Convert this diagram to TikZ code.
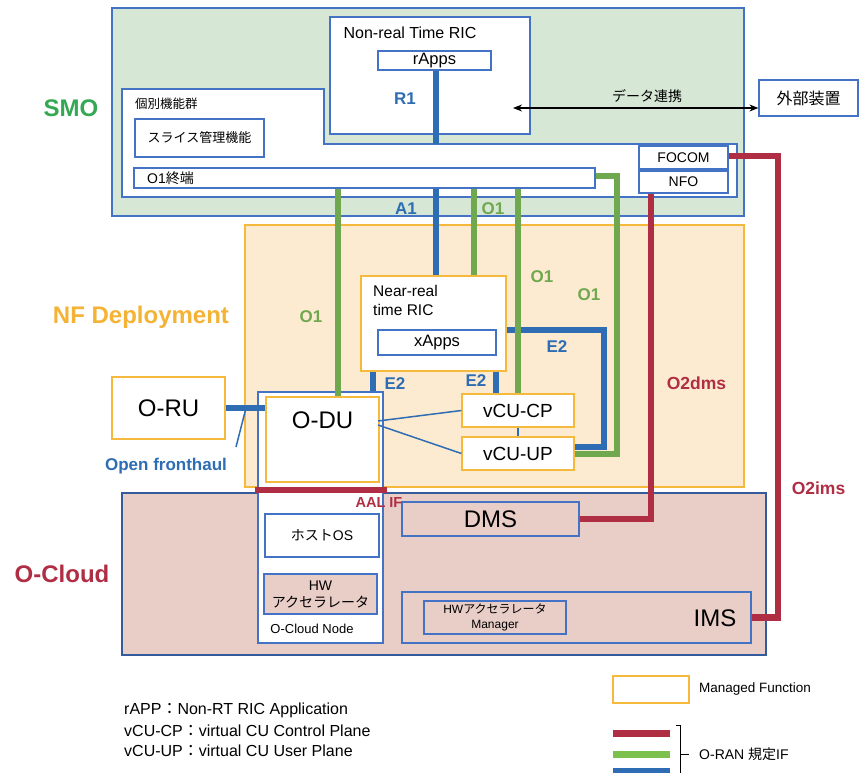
\documentclass[tikz,border=0pt]{standalone}
\usepackage{fontspec}
\setmainfont{Liberation Sans}
\newfontfamily\jpfont{Noto Sans CJK JP}
\newcommand{\jp}[1]{{\jpfont #1}}
\usetikzlibrary{arrows.meta}

\definecolor{bblue}{HTML}{4472C4}
\definecolor{morange}{HTML}{F5B93C}
\definecolor{smofill}{HTML}{D6E8D5}
\definecolor{nffill}{HTML}{FDEBD1}
\definecolor{ocfill}{HTML}{E9CDC7}
\definecolor{ifblue}{HTML}{2E6DB4}
\definecolor{ifgreen}{HTML}{6FA84E}
\definecolor{ifred}{HTML}{B02E44}
\definecolor{lggreen}{HTML}{7CC04E}
\definecolor{smogreen}{HTML}{34A853}
\definecolor{nforange}{HTML}{F5B335}

\begin{document}
\begin{tikzpicture}[x=1pt,y=-1pt,
  box/.style={draw=bblue, line width=1.2pt, fill=white, inner sep=0pt},
  mf/.style={draw=morange, line width=1.2pt, fill=white, inner sep=0pt},
  ifb/.style={line width=6pt, draw=ifblue},
  ifg/.style={line width=6pt, draw=ifgreen},
  ifr/.style={line width=6.5pt, draw=ifred},
  thinb/.style={line width=1.5pt, draw=ifblue},
  lbl/.style={font=\bfseries\fontsize{17}{20}\selectfont, inner sep=0pt},
  big/.style={font=\bfseries\fontsize{24}{28}\selectfont, inner sep=0pt},
  txt/.style={inner sep=0pt, align=center}
]
\fill[white] (0,0) rectangle (863,773);
\useasboundingbox (0,0) rectangle (863,773);

% ---------- SMO ----------
\node[box, fill=smofill, minimum width=632pt, minimum height=208pt] (smo) at (428,112) {};
\node[box, minimum width=200pt, minimum height=117pt] (nrtric) at (430,75.5) {};
\node[box, minimum width=113pt, minimum height=19pt] (rapps) at (434.5,60.5) {};
\coordinate (grpnotch) at (324,144);
\draw[draw=bblue, line width=1.2pt, fill=white] (122,89) -- (324,89) -- (grpnotch) -- (737,144) -- (737,197) -- (122,197) -- cycle;
\node[box, minimum width=129pt, minimum height=38pt] (slice) at (199.5,138) {};
\node[box, minimum width=461pt, minimum height=20pt] (o1term) at (364.5,178) {};
\node[box, minimum width=89pt, minimum height=23pt] (focom) at (683.5,157.5) {};
\node[box, minimum width=89pt, minimum height=22pt] (nfo) at (683.5,182) {};
\node[box, minimum width=99pt, minimum height=36pt] (ext) at (808.5,98) {};

% ---------- NF Deployment / O-Cloud ----------
\node[draw=morange, line width=1.2pt, fill=nffill, minimum width=499pt, minimum height=262pt, inner sep=0pt] (nf) at (494.5,356) {};
\node[box, draw=bblue!80!black, fill=ocfill, minimum width=644pt, minimum height=162pt] (ocloud) at (444,574) {};
\node[box, minimum width=125pt, minimum height=251pt] (ocnode) at (320.5,517.5) {};
\node[mf, minimum width=113pt, minimum height=85pt] (odu) at (322.5,439.5) {};
\node[mf, minimum width=145pt, minimum height=95pt] (nearrt) at (433.5,323.5) {};
\node[box, minimum width=118pt, minimum height=25pt] (xapps) at (437,342.5) {};
\node[mf, minimum width=112pt, minimum height=33pt] (vcucp) at (518,410.5) {};
\node[mf, minimum width=112pt, minimum height=33pt] (vcuup) at (518,453.5) {};
\node[mf, minimum width=113pt, minimum height=62pt] (oru) at (168.5,408) {};
\node[box, minimum width=114pt, minimum height=43pt] (hostos) at (322,535.5) {};
\node[box, fill=ocfill, minimum width=113pt, minimum height=40pt] (hwacc) at (320.5,594) {};
\node[box, fill=ocfill, minimum width=177pt, minimum height=34pt] (dms) at (490.5,519) {};
\node[box, fill=ocfill, minimum width=349pt, minimum height=51pt] (ims) at (576.5,617.5) {};
\node[box, fill=ocfill, minimum width=142pt, minimum height=33pt] (hwmgr) at (495,617.5) {};

% ---------- interface lines ----------
\coordinate (xr) at (436,0);
\coordinate (xg1) at (338,0);
\coordinate (xg2) at (474,0);
\coordinate (xg3) at (518,0);
\coordinate (xg4) at (617,0);
\coordinate (xe1) at (373,0);
\coordinate (xe2) at (496,0);
\coordinate (e2c) at (603.5,330);
\coordinate (e2d) at (603.5,446.5);
\coordinate (xr2) at (651,0);
\coordinate (xr3) at (778,0);

\draw[ifb] (rapps.south -| xr) -- (grpnotch -| xr);
\draw[ifb] (o1term.south -| xr) -- (nearrt.north -| xr);
\draw[ifb] (nearrt.east |- e2c) -- (e2c) -- (e2d) -- (vcuup.east |- e2d);
\draw[ifb] (nearrt.south -| xe2) -- (vcucp.north -| xe2);
\draw[ifb] (nearrt.south -| xe1) -- (ocnode.north -| xe1);
\draw[ifb] (oru.east) -- (odu.west |- oru.east);

\draw[ifg] (o1term.south -| xg1) -- (odu.north -| xg1);
\draw[ifg] (o1term.south -| xg2) -- (nearrt.north -| xg2);
\draw[ifg] (o1term.south -| xg3) -- (vcucp.north -| xg3);
\draw[ifg] ([yshift=2pt]o1term.east) -- ([yshift=2pt]o1term.east -| xg4) -- (xg4 |- vcuup.east) -- (vcuup.east);

\draw[ifr] (nfo.south -| xr2) -- (xr2 |- dms.east) -- (dms.east);
\draw[ifr] ([yshift=1.5pt]focom.east) -- ([yshift=1.5pt]focom.east -| xr3) -- (xr3 |- ims.east) -- (ims.east);
\coordinate (aal1) at (255,490);
\coordinate (aal2) at (387,490);
\draw[ifr] (aal1) -- (aal2);

% thin links
\coordinate (fhp) at (236,447);
\coordinate (fhq) at (246,408);
\draw[thinb] (fhp) -- (fhq);
\coordinate (d1) at (378,421);
\coordinate (d2) at (378,425);
\draw[thinb] (d1) -- (vcucp.west);
\draw[thinb] (d2) -- (vcuup.west);
\draw[thinb] (vcucp.south) -- (vcuup.north);

% data link to external equipment
\coordinate (dl) at (513,108);
\draw[{Stealth[length=9pt,width=7pt]}-{Stealth[length=9pt,width=7pt]}, line width=1.1pt] (dl) -- (dl -| ext.west);

% ---------- texts ----------
\node[big, text=smogreen] (tsmo) at (71,108) {SMO};
\node[big, text=nforange] (tnf) at (141,317) {NF Deployment};
\node[big, text=ifred] (toc) at (62,574) {O-Cloud};

\node[txt, font=\fontsize{16}{19}\selectfont] (tnrt) at (410,33) {Non-real Time RIC};
\node[txt, font=\fontsize{16.5}{19}\selectfont] at (rapps) {rApps};
\node[txt, anchor=west, font=\jpfont\fontsize{12.5}{15}\selectfont] (tgrp) at (135,104) {個別機能群};
\node[txt, font=\jpfont\fontsize{13}{15}\selectfont] at (slice) {スライス管理機能};
\node[txt, anchor=west, font=\fontsize{14}{16}\selectfont] (to1t) at (147,178) {O1\jp{終端}};
\node[txt, font=\fontsize{14}{16}\selectfont] at (focom) {FOCOM};
\node[txt, font=\fontsize{14}{16}\selectfont] at (nfo) {NFO};
\node[txt, font=\jpfont\fontsize{14}{16}\selectfont] (tdl) at (647,96) {データ連携};
\node[txt, font=\jpfont\fontsize{16}{19}\selectfont] at (ext) {外部装置};

\node[lbl, text=ifblue] (tr1) at (405,99) {R1};
\node[lbl, text=ifblue] (ta1) at (406,209) {A1};
\node[lbl, text=ifgreen] (to1a) at (493,209) {O1};
\node[lbl, text=ifgreen] (to1b) at (311,317) {O1};
\node[lbl, text=ifgreen] (to1c) at (542,277) {O1};
\node[lbl, text=ifgreen] (to1d) at (589,295) {O1};
\node[lbl, text=ifblue] (te2a) at (395,384) {E2};
\node[lbl, text=ifblue] (te2b) at (476,381) {E2};
\node[lbl, text=ifblue] (te2c) at (557,347) {E2};
\node[lbl, text=ifblue] (tfh) at (166,466) {Open fronthaul};
\node[lbl, text=ifred, font=\bfseries\fontsize{17.5}{20}\selectfont] (to2d) at (696.5,383) {O2dms};
\node[lbl, text=ifred, font=\bfseries\fontsize{17.5}{20}\selectfont] (to2i) at (818.5,488) {O2ims};
\node[lbl, text=ifred, font=\bfseries\fontsize{14.5}{17}\selectfont] (taal) at (379,503) {AAL IF};

\node[txt, anchor=west, align=left, font=\fontsize{15.5}{19}\selectfont] (tnear) at (373,300.5) {Near-real\\time RIC};
\node[txt, font=\fontsize{16.5}{19}\selectfont] at (xapps) {xApps};
\node[txt, font=\fontsize{19}{22}\selectfont] at (vcucp) {vCU-CP};
\node[txt, font=\fontsize{19}{22}\selectfont] at (vcuup) {vCU-UP};
\node[txt, font=\fontsize{24}{28}\selectfont] at (oru) {O-RU};
\node[txt, font=\fontsize{24}{28}\selectfont] (todu) at (322.5,420) {O-DU};

\node[txt, font=\fontsize{14}{16}\selectfont] at (hostos) {\jp{ホスト}OS};
\node[txt, font=\fontsize{14}{17}\selectfont] at (hwacc) {HW\\\jp{アクセラレータ}};
\node[txt, font=\fontsize{13}{15}\selectfont] (tocn) at (312,629) {O-Cloud Node};
\node[txt, font=\fontsize{24}{28}\selectfont] at (dms) {DMS};
\node[txt, font=\fontsize{24}{28}\selectfont] (tims) at (715,618) {IMS};
\node[txt, font=\fontsize{12}{14.5}\selectfont] at (hwmgr) {HW\jp{アクセラレータ}\\Manager};

% ---------- legend ----------
\node[txt, anchor=west, font=\fontsize{16}{19}\selectfont] (lg1) at (124,710) {rAPP\jp{：}Non-RT RIC Application};
\node[txt, anchor=west, font=\fontsize{16}{19}\selectfont] (lg2) at (124,731) {vCU-CP\jp{：}virtual CU Control Plane};
\node[txt, anchor=west, font=\fontsize{16}{19}\selectfont] (lg3) at (124,751) {vCU-UP\jp{：}virtual CU User Plane};

\node[mf, minimum width=76pt, minimum height=27pt] (lgmf) at (651,689.5) {};
\node[txt, anchor=west, font=\fontsize{13.5}{16}\selectfont] (lgmft) at (699,689) {Managed Function};

\coordinate (lr1) at (613,733);
\coordinate (lr2) at (670,733);
\coordinate (lg1a) at (613,754);
\coordinate (lg2a) at (670,754);
\coordinate (lb1) at (613,771);
\coordinate (lb2) at (670,771);
\draw[ifr, line width=7pt] (lr1) -- (lr2);
\draw[line width=7pt, draw=lggreen] (lg1a) -- (lg2a);
\draw[ifb, line width=7pt] (lb1) -- (lb2);
\coordinate (br1) at (676,725);
\coordinate (br2) at (680.5,725);
\coordinate (br3) at (680.5,780);
\coordinate (bm1) at (680.5,754);
\coordinate (bm2) at (689,754);
\draw[line width=0.9pt] (br1) -- (br2) -- (br3);
\draw[line width=0.9pt] (bm1) -- (bm2);
\node[txt, anchor=west, font=\fontsize{14}{16}\selectfont] (lgif) at (699,754) {O-RAN \jp{規定}IF};
\end{tikzpicture}
\end{document}
